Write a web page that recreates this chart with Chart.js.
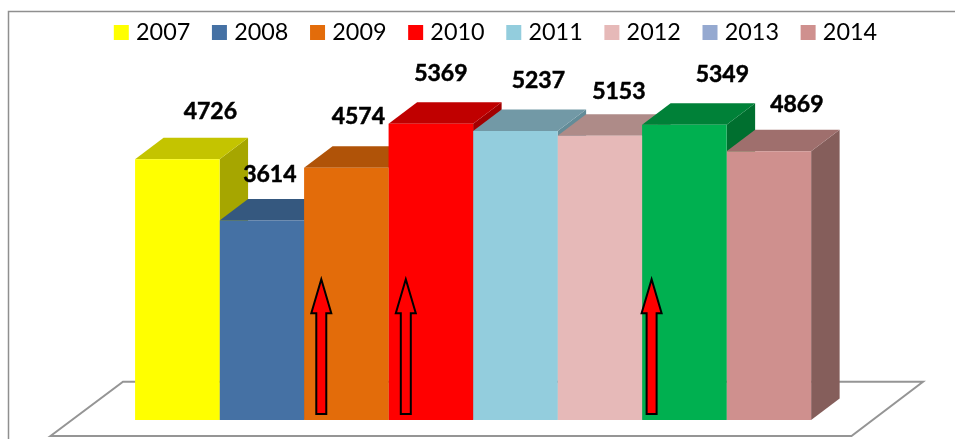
<!DOCTYPE html>
<html><head><meta charset="utf-8">
<style>html,body{margin:0;padding:0;background:#fff}canvas{display:block}</style>
<script src="https://cdn.jsdelivr.net/npm/chart.js@4"></script>
</head><body><canvas id="c" width="955" height="439"></canvas>
<script>
const years = ['2007','2008','2009','2010','2011','2012','2013','2014'];
const values = [4726,3614,4574,5369,5237,5153,5349,4869];
const frontColors = ['#ffff00','#4571a4','#e36c0a','#ff0000','#93cddd','#e6b9b8','#00b050','#cf908e'];
const topColors = ['#c4c400','#35587f','#b05308','#c00000','#7299a6','#ae8b88','#008138','#9f6f6d'];
const sideColors = ['#a6a600','#2f4f72','#954607','#a30000','#638c98','#9a7a78','#006f2f','#855e5b'];
const legendColors = ['#ffff00','#4571a4','#e36c0a','#ff0000','#93cddd','#e6b9b8','#95a9d0','#cf908e'];
const arrowYears = ['2009','2010','2013'];
const arrowOffsets = [17.2,17.2,9.5];
const arrowTipValue = 2550, arrowHeadValue = 1935, arrowBaseValue = 108;
const labelOffsets = [[33,-48],[8,-46],[12,-51],[10,-50],[23,-50],[19,-44],[38,-50],[28,-47]];
const AXIS_MAX = 6629;
const DX = 28.5, DY = 21.5;

const threeD = {
  id:'threeD',
  beforeDraw(chart){
    const c = chart.ctx;
    c.save();
    c.fillStyle='#fff'; c.fillRect(0,0,chart.width,chart.height);
    c.strokeStyle='#8f8f8f'; c.lineWidth=1.5;
    c.beginPath(); c.moveTo(8.5,439); c.lineTo(8.5,11.5); c.lineTo(955,11.5); c.stroke();
    c.restore();
  },
  beforeDatasetsDraw(chart){
    const c = chart.ctx;
    c.save();
    c.strokeStyle='#959595'; c.lineWidth=2; c.fillStyle='#fff';
    c.beginPath(); c.moveTo(50.5,436); c.lineTo(123,381.7); c.lineTo(923,381.7); c.lineTo(851.5,436); c.closePath();
    c.fill(); c.stroke();
    // side and top faces, left to right; the library then paints the front faces over them
    years.forEach((yr,i)=>{
      const b = chart.getDatasetMeta(i).data[0];
      const w = b.width, l = b.x-w/2, r = b.x+w/2, t = b.y, base = b.base;
      c.fillStyle = sideColors[i];
      c.beginPath(); c.moveTo(r,t); c.lineTo(r+DX,t-DY); c.lineTo(r+DX,base-DY); c.lineTo(r,base); c.closePath(); c.fill();
      c.fillStyle = topColors[i];
      c.beginPath(); c.moveTo(l,t); c.lineTo(l+DX,t-DY); c.lineTo(r+DX,t-DY); c.lineTo(r,t); c.closePath(); c.fill();
    });
    c.restore();
  },
  afterDatasetsDraw(chart){
    const c = chart.ctx, y = chart.scales.y;
    c.save();
    arrowYears.forEach((yr,k)=>{
      const i = years.indexOf(yr), b = chart.getDatasetMeta(i).data[0];
      const x = b.x-b.width/2+arrowOffsets[k];
      const tip=y.getPixelForValue(arrowTipValue), head=y.getPixelForValue(arrowHeadValue), bot=y.getPixelForValue(arrowBaseValue);
      c.beginPath();
      c.moveTo(x,tip); c.lineTo(x+10,head); c.lineTo(x+5,head); c.lineTo(x+5,bot);
      c.lineTo(x-5,bot); c.lineTo(x-5,head); c.lineTo(x-10,head); c.closePath();
      c.fillStyle='#ff0000'; c.fill();
      c.strokeStyle='#000'; c.lineWidth=2; c.lineJoin='miter'; c.stroke();
    });
    c.fillStyle='#000'; c.strokeStyle='#000'; c.lineWidth=0.5; c.font='bold 23px Lato'; c.textAlign='center'; c.textBaseline='middle';
    values.forEach((v,i)=>{
      const b = chart.getDatasetMeta(i).data[0];
      const tx = b.x+labelOffsets[i][0], ty = b.y+labelOffsets[i][1];
      c.fillText(String(v), tx, ty);
      c.strokeText(String(v), tx, ty);
    });
    c.restore();
  }
};

new Chart(document.getElementById('c'),{
  type:'bar',
  data:{labels:['2007-2014'],datasets:years.map((y,i)=>({
    label:y,data:[values[i]],backgroundColor:frontColors[i],borderWidth:0,inflateAmount:0,
    barPercentage:1,categoryPercentage:0.7812
  }))},
  options:{
    responsive:false,animation:false,
    layout:{padding:{left:40.4,right:0,top:-5.3,bottom:19}},
    plugins:{
      tooltip:{enabled:false},
      legend:{position:'top',labels:{
        boxWidth:6,boxHeight:6,padding:26.15,color:'#000',font:{family:'Lato',size:23.4},
        generateLabels(){return years.map((y,i)=>({text:y,fillStyle:legendColors[i],strokeStyle:legendColors[i],lineWidth:9,datasetIndex:i,hidden:false}));}
      }}
    },
    scales:{
      x:{display:false},
      y:{position:'right',min:0,max:AXIS_MAX,grid:{display:false},border:{display:false},ticks:{display:false},afterFit(a){a.width=49.2;}}
    }
  },
  plugins:[threeD]
});
</script></body></html>
